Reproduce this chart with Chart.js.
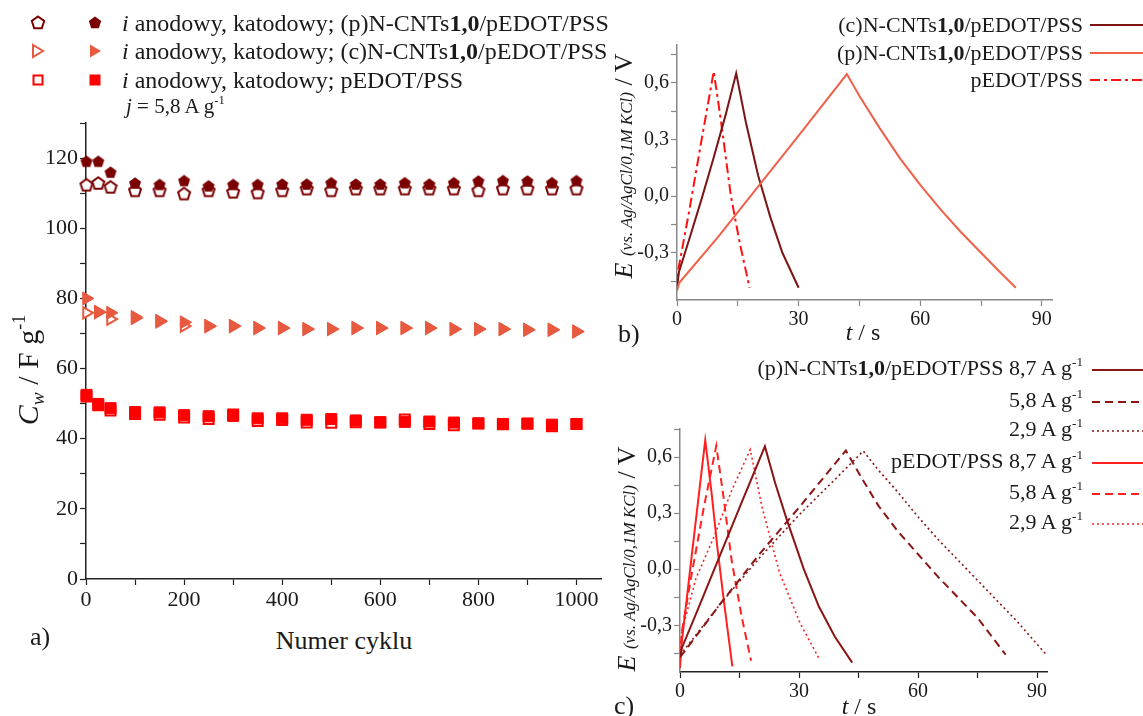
<!DOCTYPE html>
<html>
<head>
<meta charset="utf-8">
<script src="https://cdn.jsdelivr.net/npm/chart.js@4.4.1/dist/chart.umd.min.js"></script>
<style>
  body { margin: 0; background: #fff; }
  #fig { position: relative; width: 1143px; height: 716px; overflow: hidden;
         font-family: 'Liberation Serif', 'Times New Roman', serif; color: #1a1a1a; }
  #fig canvas { position: absolute; }
  .t { position: absolute; white-space: nowrap; line-height: 1; }
  .c { transform: translate(-50%, -50%); }
  .r { transform: translateY(-50%); text-align: right; }
  .l { transform: translateY(-50%); }
  .rot { transform: translate(-50%, -50%) rotate(-90deg); }
  sup { font-size: 0.6em; vertical-align: 0.7em; line-height: 0; }
  sub { font-size: 0.65em; vertical-align: -0.3em; line-height: 0; }
  svg { position: absolute; overflow: visible; }
</style>
</head>
<body>
<div id="fig">
  <canvas id="chartA" width="620" height="520" style="left:0;top:100px"></canvas>
  <canvas id="chartB" width="543" height="340" style="left:600px;top:0"></canvas>
  <canvas id="chartC" width="543" height="376" style="left:600px;top:340px"></canvas>

  <!-- panel a legend -->
  <svg width="130" height="100" style="left:0;top:0">
    <polygon points="38,16.5 44.2,21 41.8,28.3 34.2,28.3 31.8,21" fill="#fff" stroke="#7b0000" stroke-width="2"/>
    <polygon points="95,16.5 101.2,21 98.8,28.3 91.2,28.3 88.8,21" fill="#7b0000"/>
    <polygon points="33,45 33,57 43,51" fill="#fff" stroke="#e85a40" stroke-width="2"/>
    <polygon points="90,44.5 90,57.5 101,51" fill="#e85a40"/>
    <rect x="33.5" y="75.5" width="9" height="9" fill="#fff" stroke="#ff0000" stroke-width="2"/>
    <rect x="89.5" y="74.5" width="11" height="11" fill="#ff0000"/>
  </svg>
  <div class="t l" style="left:122px;top:23px;font-size:24px"><i>i</i> anodowy, katodowy; (p)N-CNTs<b>1,0</b>/pEDOT/PSS</div>
  <div class="t l" style="left:122px;top:51px;font-size:24px"><i>i</i> anodowy, katodowy; (c)N-CNTs<b>1,0</b>/pEDOT/PSS</div>
  <div class="t l" style="left:122px;top:80px;font-size:24px"><i>i</i> anodowy, katodowy; pEDOT/PSS</div>
  <div class="t l" style="left:126px;top:106px;font-size:21px"><i>j</i> = 5,8 A g<sup>-1</sup></div>

  <div class="t rot" style="left:28px;top:370px;font-size:30px"><i>C</i><sub><i>w</i></sub> / F g<sup>-1</sup></div>
  <div class="t l" style="left:30px;top:637px;font-size:26px">a)</div>
  <div class="t c" style="left:344px;top:641px;font-size:26px">Numer cyklu</div>

  <!-- panel b -->
  <div class="t rot" style="left:624px;top:166px;font-size:26px"><i>E</i> <span style="font-size:17px"><i>(vs. Ag/AgCl/0,1M KCl)</i></span> / V</div>
  <div class="t l" style="left:618px;top:334px;font-size:26px">b)</div>
  <div class="t c" style="left:863px;top:332px;font-size:24px"><i>t</i> / s</div>
  <div class="t r" style="right:60px;top:25px;font-size:22px">(c)N-CNTs<b>1,0</b>/pEDOT/PSS</div>
  <div class="t r" style="right:60px;top:53px;font-size:22px">(p)N-CNTs<b>1,0</b>/pEDOT/PSS</div>
  <div class="t r" style="right:60px;top:80px;font-size:22px">pEDOT/PSS</div>
  <svg width="60" height="100" style="left:1088px;top:0">
    <line x1="2" y1="25" x2="60" y2="25" stroke="#7d1414" stroke-width="2"/>
    <line x1="2" y1="53" x2="60" y2="53" stroke="#f06048" stroke-width="2"/>
    <line x1="2" y1="80" x2="60" y2="80" stroke="#ff1010" stroke-width="2" stroke-dasharray="10 4 3 4"/>
  </svg>

  <!-- panel c -->
  <div class="t rot" style="left:627px;top:559px;font-size:26px"><i>E</i> <span style="font-size:17px"><i>(vs. Ag/AgCl/0,1M KCl)</i></span> / V</div>
  <div class="t l" style="left:614px;top:706px;font-size:26px">c)</div>
  <div class="t c" style="left:859px;top:706px;font-size:24px"><i>t</i> / s</div>
  <div class="t r" style="right:60px;top:368px;font-size:22px">(p)N-CNTs<b>1,0</b>/pEDOT/PSS 8,7 A g<sup>-1</sup></div>
  <div class="t r" style="right:60px;top:400px;font-size:22px">5,8 A g<sup>-1</sup></div>
  <div class="t r" style="right:60px;top:429px;font-size:22px">2,9 A g<sup>-1</sup></div>
  <div class="t r" style="right:60px;top:461px;font-size:22px">pEDOT/PSS 8,7 A g<sup>-1</sup></div>
  <div class="t r" style="right:60px;top:492px;font-size:22px">5,8 A g<sup>-1</sup></div>
  <div class="t r" style="right:60px;top:522px;font-size:22px">2,9 A g<sup>-1</sup></div>
  <svg width="60" height="200" style="left:1090px;top:340px">
    <line x1="2" y1="30" x2="60" y2="30" stroke="#8b1515" stroke-width="2"/>
    <line x1="2" y1="62" x2="60" y2="62" stroke="#8b1515" stroke-width="2" stroke-dasharray="8 5"/>
    <line x1="2" y1="91" x2="60" y2="91" stroke="#8b1515" stroke-width="1.6" stroke-dasharray="2 3"/>
    <line x1="2" y1="123" x2="60" y2="123" stroke="#ff2020" stroke-width="2"/>
    <line x1="2" y1="154" x2="60" y2="154" stroke="#ff2020" stroke-width="2" stroke-dasharray="8 5"/>
    <line x1="2" y1="184" x2="60" y2="184" stroke="#ff2020" stroke-width="1.6" stroke-dasharray="2 3"/>
  </svg>
</div>

<script>
// ---------- panel a: capacitance vs cycle number ----------
const cycles = [1, 25, 50, 100, 150, 200, 250, 300, 350, 400, 450, 500, 550, 600, 650, 700, 750, 800, 850, 900, 950, 1000];
const pKatodowy = [119.1, 119.1, 116.0, 112.9, 112.5, 113.6, 112.1, 112.5, 112.5, 112.6, 112.6, 113.0, 112.6, 112.6, 113.0, 112.6, 113.0, 113.5, 113.6, 113.5, 113.0, 113.6];
const pAnodowy  = [112.4, 112.9, 111.8, 110.8, 110.8, 109.9, 110.8, 110.4, 110.2, 110.8, 111.3, 110.8, 111.3, 111.3, 111.3, 111.3, 111.3, 110.8, 111.3, 111.3, 111.3, 111.3];
const cKatodowy = [80.0, 76.2, 75.9, 74.7, 73.6, 73.2, 72.2, 72.2, 71.6, 71.6, 71.3, 71.3, 71.6, 71.6, 71.6, 71.6, 71.3, 71.3, 71.3, 71.1, 71.1, 70.6];
const cAnodowy  = [75.9, 76.0, 74.1, 74.4, 73.4, 72.1, 72.0, 72.0, 71.5, 71.5, 71.2, 71.2, 71.5, 71.5, 71.5, 71.5, 71.2, 71.2, 71.2, 71.0, 71.0, 70.5];
const eKatodowy = [52.5, 49.9, 48.7, 47.6, 47.5, 46.7, 46.4, 46.5, 45.8, 45.8, 45.4, 45.6, 45.2, 44.7, 44.8, 44.9, 44.6, 44.4, 44.2, 44.3, 44.0, 44.2];
const eAnodowy  = [52.0, 49.5, 48.0, 47.0, 46.8, 46.0, 45.6, 46.9, 45.0, 45.3, 44.6, 44.5, 44.7, 44.6, 45.5, 44.2, 43.8, 44.3, 44.1, 44.3, 43.5, 44.2];
const aTicksX = [0, 100, 200, 300, 400, 500, 600, 700, 800, 900, 1000];
const aTicksY = [0, 10, 20, 30, 40, 50, 60, 70, 80, 90, 100, 110, 120, 130];

// ---------- panel b: charge/discharge at 5,8 A/g ----------
const bC_t = [0, 0.5, 3, 6, 9, 12, 14.6, 17, 20, 23, 26, 30];
const bC_E = [-0.48, -0.40, -0.23, -0.02, 0.20, 0.43, 0.65, 0.39, 0.11, -0.11, -0.30, -0.485];
const bP_t = [0, 0.5, 10, 20, 30, 41.9, 45, 50, 55, 60, 65, 70, 75, 80, 83.6];
const bP_E = [-0.50, -0.46, -0.22, 0.05, 0.32, 0.646, 0.53, 0.36, 0.20, 0.06, -0.07, -0.19, -0.30, -0.41, -0.485];
const bE_t = [0, 0.4, 3, 6, 9.06, 10.7, 13.3, 15.5, 17.9];
const bE_E = [-0.50, -0.38, -0.08, 0.29, 0.66, 0.42, 0.0, -0.25, -0.485];

// ---------- panel c: different current densities ----------
const cP87_t = [0, 0.5, 5, 10, 15, 21.4, 24, 27, 31.2, 35, 39, 43.4];
const cP87_E = [-0.47, -0.42, -0.19, 0.07, 0.33, 0.657, 0.46, 0.26, 0.0, -0.2, -0.36, -0.50];
const cP58_t = [0, 1.5, 10, 20, 30, 41.8, 46, 50, 55, 60, 65, 70, 75, 80, 82.1];
const cP58_E = [-0.47, -0.43, -0.19, 0.08, 0.33, 0.635, 0.48, 0.34, 0.20, 0.08, -0.04, -0.15, -0.26, -0.40, -0.457];
const cP29_t = [0, 1.5, 10, 20, 30, 40, 46.2, 50, 55, 60, 65, 70, 75, 80, 85, 92.3];
const cP29_E = [-0.46, -0.42, -0.19, 0.06, 0.29, 0.50, 0.632, 0.53, 0.41, 0.28, 0.16, 0.05, -0.06, -0.17, -0.28, -0.457];
const cE87_t = [0, 0.4, 3, 6.36, 8, 9.4, 11, 13.2];
const cE87_E = [-0.53, -0.40, 0.08, 0.69, 0.40, 0.12, -0.16, -0.52];
const cE58_t = [0, 0.5, 3, 6, 9.15, 11, 13, 15.5, 17.9];
const cE58_E = [-0.47, -0.33, -0.02, 0.33, 0.66, 0.38, 0.05, -0.25, -0.49];
const cE29_t = [0, 0.5, 4, 8.5, 13, 17.7, 20.7, 25.1, 30.3, 35.1];
const cE29_E = [-0.45, -0.33, -0.05, 0.17, 0.42, 0.64, 0.33, -0.02, -0.29, -0.48];
const ebTicksX = [0, 15, 30, 45, 60, 75, 90];
const bTicksY = [-0.45, -0.3, -0.15, 0, 0.15, 0.3, 0.45, 0.6, 0.75];
const ebMajorY = [-0.3, 0, 0.3, 0.6];

const pts = (xs, ys) => xs.map((x, i) => ({ x: x, y: ys[i] }));
const serif = 'Liberation Serif';

// pentagon marker (Chart.js has none built in)
function pentagon(fill, stroke) {
  const c = document.createElement('canvas');
  c.width = 16; c.height = 16;
  const g = c.getContext('2d');
  g.beginPath();
  for (let i = 0; i < 5; i++) {
    const a = -Math.PI / 2 + i * 2 * Math.PI / 5;
    const px = 8 + 6.3 * Math.cos(a), py = 8.6 + 6.3 * Math.sin(a);
    i ? g.lineTo(px, py) : g.moveTo(px, py);
  }
  g.closePath();
  g.fillStyle = fill; g.fill();
  if (stroke) { g.lineWidth = 2; g.strokeStyle = stroke; g.stroke(); }
  return c;
}

function scale(opts) {
  // fixed-size axis so that plot areas line up with the reference
  const isX = opts.axis === 'x';
  return {
    type: 'linear', min: opts.min, max: opts.max,
    afterBuildTicks: s => { s.ticks = opts.ticks.map(v => ({ value: v })); },
    afterFit: s => { if (isX) s.height = opts.size; else s.width = opts.size; },
    border: { display: true, color: opts.color, width: 1.5 },
    grid: { display: true, drawOnChartArea: false, drawTicks: true, tickLength: 6, tickColor: opts.color, tickWidth: 1.2 },
    ticks: {
      autoSkip: false, maxRotation: 0, padding: 2, color: '#1a1a1a',
      font: { family: serif, size: opts.font },
      callback: v => opts.major(v) ? opts.fmt(v) : ''
    }
  };
}

const baseOpts = (x, y, pad) => ({
  responsive: false, animation: false, events: [],
  layout: { padding: pad },
  plugins: { legend: { display: false }, tooltip: { enabled: false } },
  scales: { x: x, y: y }
});

const commaFmt = v => v.toFixed(1).replace('.', ',');
const isMajorEB = v => ebMajorY.some(m => Math.abs(m - v) < 1e-6);

// ---- chart a ----
new Chart(document.getElementById('chartA'), {
  type: 'scatter',
  data: {
    datasets: [
      { data: pts(cycles, pAnodowy), pointStyle: pentagon('#fff', '#7b0000'), pointRadius: 7, order: 1, clip: false },
      { data: pts(cycles, pKatodowy), pointStyle: pentagon('#7b0000'), pointRadius: 7, order: 0, clip: false },
      { data: pts(cycles, cAnodowy), pointStyle: 'triangle', rotation: 90, pointRadius: 6.5,
        backgroundColor: '#fff', borderColor: '#e85a40', borderWidth: 2, order: 1, clip: false },
      { data: pts(cycles, cKatodowy), pointStyle: 'triangle', rotation: 90, pointRadius: 7.5,
        backgroundColor: '#e85a40', borderColor: '#e85a40', borderWidth: 1, order: 0, clip: false },
      { data: pts(cycles, eAnodowy), pointStyle: 'rect', pointRadius: 7,
        backgroundColor: '#fff', borderColor: '#ff0000', borderWidth: 2, order: 1, clip: false },
      { data: pts(cycles, eKatodowy), pointStyle: 'rect', pointRadius: 7.8,
        backgroundColor: '#ff0000', borderColor: '#ff0000', borderWidth: 1, order: 0, clip: false }
    ]
  },
  options: baseOpts(
    scale({ axis: 'x', min: 0, max: 1050, ticks: aTicksX, size: 41, color: '#222', font: 22,
            major: v => v % 200 === 0, fmt: v => String(v) }),
    scale({ axis: 'y', min: 0, max: 130, ticks: aTicksY, size: 86, color: '#222', font: 22,
            major: v => v % 20 === 0, fmt: v => String(v) }),
    { top: 23, right: 19, left: 0, bottom: 0 })
});

const line = (xs, ys, color, dash, width) => ({
  data: pts(xs, ys), showLine: true, pointRadius: 0, borderColor: color,
  borderWidth: width || 2, borderDash: dash || [], tension: 0
});

// ---- chart b ----
new Chart(document.getElementById('chartB'), {
  type: 'scatter',
  data: {
    datasets: [
      line(bP_t, bP_E, '#f06048'),
      line(bC_t, bC_E, '#7d1414'),
      line(bE_t, bE_E, '#ff1010', [10, 4, 3, 4])
    ]
  },
  options: baseOpts(
    scale({ axis: 'x', min: 0, max: 92.5, ticks: ebTicksX, size: 40, color: '#888', font: 20,
            major: v => v % 30 === 0, fmt: v => String(v) }),
    scale({ axis: 'y', min: -0.55, max: 0.8, ticks: bTicksY, size: 77, color: '#888', font: 20,
            major: isMajorEB, fmt: commaFmt }),
    { top: 45, right: 91, left: 0, bottom: 0 })
});

// ---- chart c ----
new Chart(document.getElementById('chartC'), {
  type: 'scatter',
  data: {
    datasets: [
      line(cP87_t, cP87_E, '#8b1515'),
      line(cP58_t, cP58_E, '#8b1515', [8, 5]),
      line(cP29_t, cP29_E, '#8b1515', [2, 3], 1.6),
      line(cE87_t, cE87_E, '#ff2020'),
      line(cE58_t, cE58_E, '#ff2020', [8, 5]),
      line(cE29_t, cE29_E, '#ff2020', [2, 3], 1.6)
    ]
  },
  options: baseOpts(
    scale({ axis: 'x', min: 0, max: 92.5, ticks: ebTicksX, size: 44, color: '#222', font: 20,
            major: v => v % 30 === 0, fmt: v => String(v) }),
    scale({ axis: 'y', min: -0.55, max: 0.75, ticks: bTicksY, size: 80, color: '#888', font: 20,
            major: isMajorEB, fmt: commaFmt }),
    { top: 89, right: 96, left: 0, bottom: 0 })
});
</script>
</body>
</html>
